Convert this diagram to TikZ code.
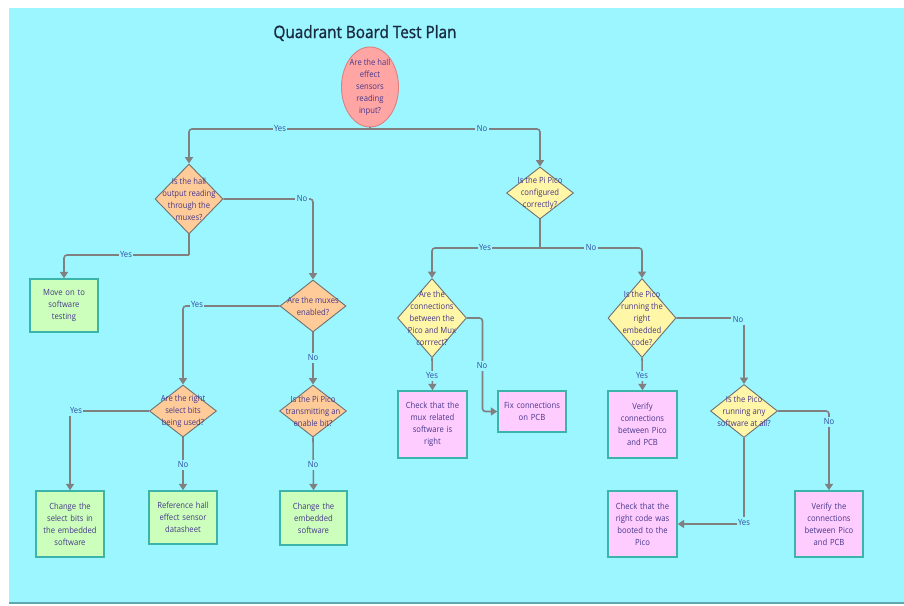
\documentclass[tikz,border=0pt]{standalone}
\usepackage{fontspec}
\setmainfont{Open Sans}[FakeStretch=0.9]
\newfontfamily\titlefont{Open Sans}[FakeStretch=0.9,FakeBold=1.2]
\usetikzlibrary{arrows.meta,shapes.geometric}
\definecolor{bg}{HTML}{9CF6FF}
\definecolor{bgline}{HTML}{5FA8B0}
\definecolor{salmon}{HTML}{FFA5A3}
\definecolor{salmonline}{HTML}{DC8080}
\definecolor{peach}{HTML}{FFCC99}
\definecolor{lyellow}{HTML}{FFF6A8}
\definecolor{lgreen}{HTML}{CCFFBB}
\definecolor{lpink}{HTML}{FFCCFF}
\definecolor{boxline}{HTML}{3CB4AA}
\definecolor{diaLine}{HTML}{707070}
\definecolor{conn}{HTML}{808080}
\definecolor{txt}{HTML}{45368A}
\definecolor{lbl}{HTML}{2B4C9B}
\definecolor{titlec}{HTML}{1A2A40}
\begin{document}
\begin{tikzpicture}[x=1pt,y=-1pt,
  qtext/.style={text=txt,font=\fontsize{8.5}{12}\selectfont,align=center,inner sep=0pt},
  dia/.style={shape=diamond,draw=diaLine,line width=0.9pt,inner sep=0pt,aspect=1},
  odia/.style={dia,fill=peach},
  ydia/.style={dia,fill=lyellow},
  boxbase/.style={rectangle,draw=boxline,line width=1.4pt,text=txt,font=\fontsize{8.5}{12}\selectfont,align=center,text width=62pt,inner sep=0pt},
  gbox/.style={boxbase,fill=lgreen},
  pbox/.style={boxbase,fill=lpink},
  conline/.style={draw=conn,line width=1.6pt,rounded corners=3pt,-{Triangle[width=8pt,length=6.5pt]}},
  plainline/.style={draw=conn,line width=1.6pt,rounded corners=3pt},
  lab/.style={text=lbl,font=\fontsize{8.5}{10}\selectfont,fill=bg,inner sep=1.5pt}
]
\useasboundingbox (0,0) rectangle (904,605);
\fill[bg] (9,8) rectangle (904,603);
\draw[bgline,line width=1.2pt] (9,603) -- (904,603);

\node[text=titlec,font=\titlefont\fontsize{17}{20}\selectfont,inner sep=0pt] (title) at (365,33) {Quadrant Board Test Plan};

% start ellipse
\node[shape=ellipse,fill=salmon,draw=salmonline,line width=0.9pt,minimum width=57pt,minimum height=80pt,inner sep=0pt,
  label={[qtext]center:Are the hall\\effect\\sensors\\reading\\input?}] (e) at (370,87) {};

% diamonds
\node[odia,minimum width=68pt,minimum height=70pt,label={[qtext]center:Is the hall\\output reading\\through the\\muxes?}] (d1) at (189,199) {};
\node[odia,minimum width=66pt,minimum height=52pt,label={[qtext]center:Are the muxes\\enabled?}] (d2) at (313,306) {};
\node[odia,minimum width=67pt,minimum height=52pt,label={[qtext]center:Are the right\\select bits\\being used?}] (d3) at (183,411) {};
\node[odia,minimum width=67pt,minimum height=52pt,label={[qtext]center:Is the Pi Pico\\transmitting an\\enable bit?}] (d4) at (313,411) {};
\node[ydia,minimum width=67pt,minimum height=52pt,label={[qtext]center:Is the Pi Pico\\configured\\correctly?}] (d5) at (540,193) {};
\node[ydia,minimum width=69pt,minimum height=79pt,label={[qtext]center:Are the\\connections\\between the\\Pico and Mux\\corrrect?}] (d6) at (432,318) {};
\node[ydia,minimum width=68pt,minimum height=79pt,label={[qtext]center:Is the Pico\\running the\\right\\embedded\\code?}] (d7) at (642,318) {};
\node[ydia,minimum width=67pt,minimum height=53pt,label={[qtext]center:Is the Pico\\running any\\software at all?}] (d8) at (744,411) {};

% boxes
\node[gbox,minimum width=68pt,minimum height=53pt] (b1) at (64,305.5) {Move on to\\software\\testing};
\node[gbox,minimum width=68pt,minimum height=66pt] (b2) at (70,524) {Change the\\select bits in\\the embedded\\software};
\node[gbox,minimum width=68pt,minimum height=53pt] (b3) at (183,517.5) {Reference hall\\effect sensor\\datasheet};
\node[gbox,minimum width=67pt,minimum height=54pt] (b4) at (313.5,518) {Change the\\embedded\\software};
\node[pbox,minimum width=69pt,minimum height=67pt] (b5) at (432.5,424.5) {Check that the\\mux related\\software is\\right};
\node[pbox,minimum width=68pt,minimum height=41pt] (b6) at (532,411.5) {Fix connections\\on PCB};
\node[pbox,minimum width=69pt,minimum height=67pt] (b7) at (642.5,424.5) {Verify\\connections\\between Pico\\and PCB};
\node[pbox,minimum width=69pt,minimum height=66pt] (b8) at (642.5,524) {Check that the\\right code was\\booted to the\\Pico};
\node[pbox,minimum width=68pt,minimum height=66pt] (b9) at (829,524) {Verify the\\connections\\between Pico\\and PCB};

% helper coordinates
\coordinate (j1) at (370,129);
\coordinate (j2) at (540,248);
\coordinate (j3) at (189,255);

% connectors
\draw[plainline] (e.south) -- (j1);
\draw[conline] (j1) -| (d1.north);
\draw[conline] (j1) -| (d5.north);
\node[lab] (l1) at (280,129) {Yes};
\node[lab] (l2) at (482,129) {No};

\draw[conline] (d1.east) -| (d2.north);
\node[lab] (l3) at (302,199) {No};
\draw[plainline] (d1.south) -- (j3);
\draw[conline] (j3) -| (b1.north);
\node[lab] (l4) at (126,255) {Yes};

\draw[conline] (d2.west) -| (d3.north);
\node[lab] (l5) at (197,305) {Yes};
\draw[conline] (d2.south) -- (d4.north);
\node[lab] (l6) at (313,358) {No};

\draw[conline] (d3.west) -| (b2.north);
\node[lab] (l7) at (76,411) {Yes};
\draw[conline] (d3.south) -- (b3.north);
\node[lab] (l8) at (183,465) {No};
\draw[conline] (d4.south) -- (b4.north);
\node[lab] (l9) at (313,465) {No};

\draw[plainline] (d5.south) -- (j2);
\draw[conline] (j2) -| (d6.north);
\draw[conline] (j2) -| (d7.north);
\node[lab] (l10) at (485,248) {Yes};
\node[lab] (l11) at (591,248) {No};

\draw[conline] (d6.south) -- (b5.north);
\node[lab] (l12) at (432,376) {Yes};
\draw[conline] (d6.east) -- ++(15.5,0) |- (b6.west);
\node[lab] (l13) at (482,366) {No};

\draw[conline] (d7.south) -- (b7.north);
\node[lab] (l14) at (642,376) {Yes};
\draw[conline] (d7.east) -| (d8.north);
\node[lab] (l15) at (738,320) {No};

\draw[conline] (d8.east) -| (b9.north);
\node[lab] (l16) at (829,422) {No};
\draw[conline] (d8.south) |- (b8.east);
\node[lab] (l17) at (744,522) {Yes};
\end{tikzpicture}
\end{document}
